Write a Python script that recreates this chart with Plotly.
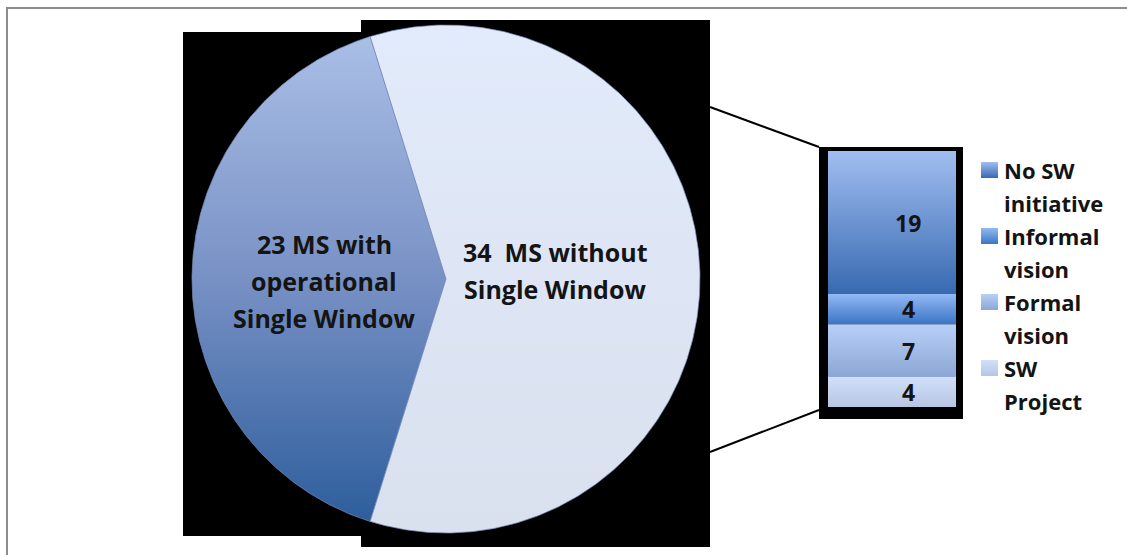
import numpy as np
import plotly.graph_objects as go

W, H = 1127, 555

# ---------------- data ----------------
pie_labels = ["23 MS with<br>operational<br>Single Window", "34  MS without<br>Single Window"]
pie_values = [23, 34]
bar_labels = ["No SW initiative", "Informal vision", "Formal vision", "SW Project"]
bar_values = [19, 4, 7, 4]

# ---------------- styles ----------------
pie_grad = [
    [[0, "#2d5e9c"], [0.5, "#7891c5"], [1, "#aabfe6"]],
    [[0, "#d9e0ee"], [1, "#e2ebfb"]],
]
bar_grad = [
    [[0, "#3769b0"], [1, "#a1bef1"]],
    [[0, "#3a75c6"], [1, "#93b9f3"]],
    [[0, "#8da7d5"], [1, "#b6d0f8"]],
    [[0, "#b7c5e2"], [1, "#d0e0fa"]],
]
FONT = "Open Sans"
TXT = "#141414"


def Y(py):
    return H - py


fig = go.Figure()

# ---------------- pie (drawn as gradient wedges) ----------------
cx, cy, r = 446, Y(279), 254
total = sum(pie_values)
span0 = pie_values[0] / total * 360.0
start = 270 - span0 / 2  # first slice centred on 9 o'clock (clockwise from top)
label_frac = [0.48, 0.43]
label_shift = [-2, 9]   # pixel shift downward
pie_line_gap = 37
ang = start
for i, v in enumerate(pie_values):
    span = v / total * 360.0
    th = np.radians(np.linspace(ang, ang + span, 300))
    xs = np.concatenate([[cx], cx + r * np.sin(th), [cx]])
    ys = np.concatenate([[cy], cy + r * np.cos(th), [cy]])
    fig.add_trace(go.Scatter(
        x=xs, y=ys, mode="lines", fill="toself",
        fillgradient=dict(type="vertical", colorscale=pie_grad[i]),
        line=dict(color="rgba(120,140,185,0.7)", width=1),
        hoverinfo="skip", showlegend=False,
    ))
    mid = np.radians(ang + span / 2)
    ax = cx + label_frac[i] * r * np.sin(mid)
    ay = cy + label_frac[i] * r * np.cos(mid)
    lines = pie_labels[i].split("<br>")
    n = len(lines)
    for j, ln in enumerate(lines):
        fig.add_annotation(
            x=ax, y=ay - (j - (n - 1) / 2) * pie_line_gap + label_shift[i],
            text="<b>" + ln + "</b>", showarrow=False, yanchor="middle",
            font=dict(family=FONT, size=25, color=TXT), align="center",
        )
    ang += span

# ---------------- stacked bar (gradient segments) ----------------
bx0, bx1 = 828, 956
btop, bbot = 151, 407
unit = (bbot - btop) / sum(bar_values)
cum = 0
for i, v in enumerate(bar_values):
    t = btop + cum * unit
    b = t + v * unit
    fig.add_trace(go.Scatter(
        x=[bx0, bx1, bx1, bx0, bx0], y=[Y(b), Y(b), Y(t), Y(t), Y(b)],
        mode="lines", fill="toself",
        fillgradient=dict(type="vertical", colorscale=bar_grad[i]),
        line=dict(width=0), hoverinfo="skip", showlegend=False,
    ))
    fig.add_annotation(
        x=908, y=Y((t + b) / 2), text="<b>%d</b>" % v, showarrow=False, yanchor="middle",
        font=dict(family=FONT, size=23, color=TXT),
    )
    cum += v

# ---------------- legend (manual) ----------------
lx, ltx = 981, 1002
first_line = 170
line_gap = 33
for i, lab in enumerate(bar_labels):
    parts = lab.rsplit(" ", 1)
    yc = first_line + i * 2 * line_gap
    fig.add_trace(go.Scatter(
        x=[lx, lx + 17, lx + 17, lx, lx], y=[Y(yc + 8), Y(yc + 8), Y(yc - 8), Y(yc - 8), Y(yc + 8)],
        mode="lines", fill="toself",
        fillgradient=dict(type="vertical", colorscale=bar_grad[i]),
        line=dict(width=0), hoverinfo="skip", showlegend=False,
    ))
    for j, p in enumerate(parts):
        fig.add_annotation(
            x=ltx, y=Y(yc + j * line_gap), text="<b>" + p + "</b>", showarrow=False,
            xanchor="left", yanchor="middle",
            font=dict(family=FONT, size=22, color=TXT),
        )

# ---------------- decoration shapes ----------------
shapes = [
    dict(type="rect", x0=7, x1=W + 5, y0=Y(8), y1=Y(H + 5), line=dict(color="#8c8c8c", width=2),
         fillcolor="rgba(0,0,0,0)", layer="below"),
    dict(type="rect", x0=183, x1=710, y0=Y(536), y1=Y(32), fillcolor="black", line=dict(width=0), layer="below"),
    dict(type="rect", x0=361, x1=710, y0=Y(547), y1=Y(20), fillcolor="black", line=dict(width=0), layer="below"),
    dict(type="rect", x0=819, x1=963, y0=Y(419), y1=Y(147), fillcolor="black", line=dict(width=0), layer="below"),
    dict(type="line", x0=710, y0=Y(107), x1=819, y1=Y(147), line=dict(color="black", width=2)),
    dict(type="line", x0=710, y0=Y(452), x1=819, y1=Y(410), line=dict(color="black", width=2)),
]

fig.update_layout(
    width=W, height=H, margin=dict(l=0, r=0, t=0, b=0),
    paper_bgcolor="white", plot_bgcolor="white",
    xaxis=dict(range=[0, W], autorange=False, visible=False, fixedrange=True),
    yaxis=dict(range=[0, H], autorange=False, visible=False, fixedrange=True),
    shapes=shapes, showlegend=False,
)

fig.write_html(
    "out.html",
    config={"displayModeBar": False},
    post_script="document.body.style.margin='0px';document.body.style.overflow='hidden';",
)
